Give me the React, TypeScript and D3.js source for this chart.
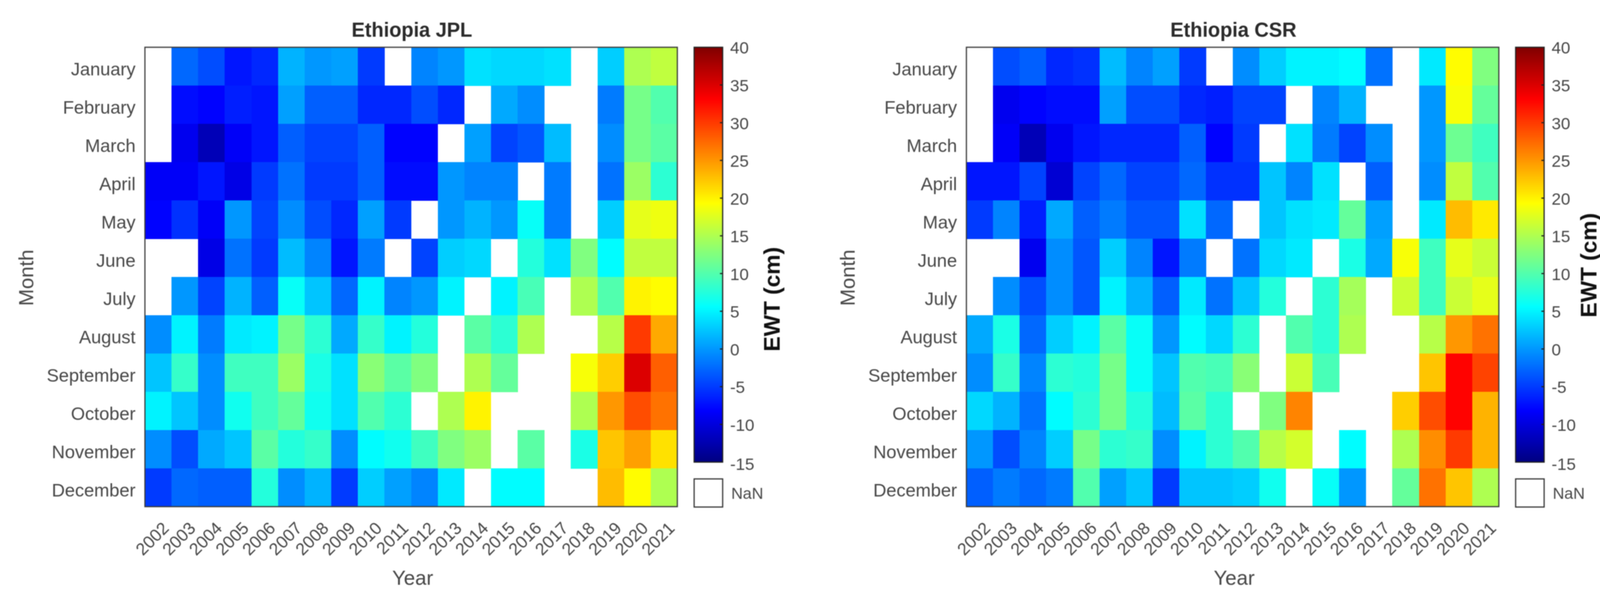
import React from "react";
import * as d3 from "d3";

const months = ["January","February","March","April","May","June","July","August","September","October","November","December"];
const years = d3.range(2002, 2022).map(String);
const cbTicks = [40,35,30,25,20,15,10,5,0,-5,-10,-15];
const N = null;

const jplValues: (number|null)[][] = [
  [N,-2.5,-4,-7,-6,1.5,0,0.5,-5,N,-1,0,4,3.5,3.5,4,N,3,15,16],
  [N,-7.5,-8,-6.5,-7,0.5,-3,-3,-6,-6,-4,-6,N,1,-0.5,N,N,-1.5,12,10],
  [N,-9,-12,-8.5,-7,-3,-4.5,-4.5,-3,-8,-8,N,0.5,-4.5,-3.5,2,N,-0.5,12,10.5],
  [-8.5,-8.5,-7,-9.5,-5,-2,-5,-5,-3,-7.5,-7.5,0,-1,-1,N,-1.5,N,-2,14,8],
  [-8,-5.5,-8.5,0,-4.5,-0.5,-4,-6,0.5,-5,N,0,1.5,0,6,-1.5,N,3,18,18.5],
  [N,N,-9.5,-2,-5,2,-1,-7,-1.5,N,-4.5,3,3.5,N,7.5,4,12.5,5.5,16,16],
  [N,0,-4.5,1.5,-3,6,2.5,-2.5,5,-1,0,5,N,5,9.5,N,15,10,20,19.5],
  [-0.5,5,-1.5,4.5,5,12,8,1,8.5,5,7.5,N,10.5,8,15,N,N,15.5,30,24],
  [2.5,8.5,-0.5,9,9,14,7,4,13,10.5,12.5,N,15,11,N,N,19,22,35,28],
  [5,2.5,-0.5,6.5,9,11,6.5,4,10,8,N,15,20,N,N,N,15,25,29,27],
  [-0.5,-4,1,2.5,10.5,7.5,8.5,-0.5,5.5,6.5,9,12.5,14,N,10.5,N,7,22.5,24.5,21],
  [-5,-2.5,-3,-3,7.5,-0.5,1.5,-5,3,0.5,-1,4.5,N,5.5,5.5,N,N,23,19.5,15],
];

const csrValues: (number|null)[][] = [
  [N,-4,-3,-6,-5.5,2,-1,0.5,-5,N,-0.5,3,5,5,5.5,-2,N,4.5,19.5,12.5],
  [N,-9,-8,-7.5,-7.5,0.5,-4,-4,-6,-6.5,-4.5,-4.5,N,-1,1.5,N,N,0,19,11],
  [N,-8.5,-12,-9,-7,-6,-6,-6,-3,-8,-5,N,4,-1.5,-4.5,-0.5,N,0,11.5,9],
  [-7,-7,-4.5,-10.5,-4.5,-2.5,-4.5,-4.5,-2.5,-5.5,-5.5,2.5,-1,4,N,-3,N,-0.5,16,10],
  [-5,-1,-6.5,1,-3,-1.5,-3.5,-3.5,4,-2.5,N,2.5,4,4.5,11,0.5,N,4.5,23,20.5],
  [N,N,-9,-0.5,-3.5,3,-1,-7,-1.5,N,-2,3.5,4.5,N,7,1,19,9,18,16.5],
  [N,-0.5,-4,-0.5,-3.5,5,1.5,-3,4.5,-2,2.5,7.5,N,8,14.5,N,16.5,9,16.5,18],
  [1,7,-2.5,3,5,10.5,6,0,5.5,3.5,8,N,10,8,15,N,N,15.5,25,27],
  [-0.5,8.5,-1,8,7.5,12,6,2.5,10,9.5,13,N,16.5,9.5,N,N,N,22.5,33,29.5],
  [3.5,1.5,-2,5.5,8,12,7.5,2,10.5,8,N,12.5,26,N,N,N,22,29,33,23.5],
  [0,-4,-1,3,12,8,8.5,-0.5,5,8,10,15.5,17,N,5.5,N,15,25.5,30,23.5],
  [-3,-1.5,-2.5,-1.5,10,0.5,2.5,-5,2.5,2.5,3,6.5,N,6,0,N,11,27,22.5,15],
];

const jetStops = [0, 0.125, 0.375, 0.625, 0.875, 1];
const jetColors = ["#000080", "#0000ff", "#00ffff", "#ffff00", "#ff0000", "#800000"];
const vMin = -15, vMax = 40;
const jet = d3.scaleLinear<string>()
  .domain(jetStops.map(t => vMin + t * (vMax - vMin)))
  .range(jetColors)
  .interpolate(d3.interpolateRgb);

const FONT = "'Liberation Sans', Arial, sans-serif";
const TXT = "#484848";
const W = 1363, H = 1176, TOP = 121;

function Panel({ left, title, values, ewtX, ewtY }: { left: number; title: string; values: (number|null)[][]; ewtX: number; ewtY: number }) {
  const x = d3.scaleBand<string>().domain(years).range([left, left + W]);
  const y = d3.scaleBand<string>().domain(months).range([TOP, TOP + H]);
  const cbX = left + W + 43, cbW = 73;
  const cbY = d3.scaleLinear().domain([vMin, vMax]).range([1183, 121]);
  const levels = d3.range(0, 256).map(i => vMin + (i + 0.5) * (vMax - vMin) / 256);
  const cx = left + W / 2;
  return (
    <g fontFamily={FONT}>
      <text x={cx + 2} y={94} textAnchor="middle" fontSize={51} fontWeight="bold" fill="#2b2b2b">{title}</text>
      {values.map((row, r) => row.map((v, c) => v === null ? null : (
        <rect key={r + "-" + c} x={x(years[c])} y={y(months[r])} width={x.bandwidth() + 0.5} height={y.bandwidth() + 0.5} fill={jet(v)} shapeRendering="crispEdges" />
      )))}
      <rect x={left} y={TOP} width={W} height={H} fill="none" stroke="#3a3a3a" strokeWidth={3} />
      {months.map(m => (
        <text key={m} x={left - 24} y={y(m)! + y.bandwidth() / 2 + 23} textAnchor="end" fontSize={46.5} fill={TXT}>{m}</text>
      ))}
      {years.map(yr => {
        const px = x(yr)! + x.bandwidth() / 2 + 30, py = 1355;
        return <text key={yr} transform={`translate(${px},${py}) rotate(-45)`} textAnchor="end" fontSize={44} fill={TXT}>{yr}</text>;
      })}
      <text x={cx + 4} y={1497} textAnchor="middle" fontSize={52} fill={TXT}>Year</text>
      <text transform={`translate(${left - 286},711) rotate(-90)`} textAnchor="middle" fontSize={52} fill={TXT}>Month</text>

      {levels.map(v => {
        const y1 = cbY(v + 55 / 512), y0 = cbY(v - 55 / 512);
        return <rect key={v} x={cbX} y={y1} width={cbW} height={y0 - y1 + 0.6} fill={jet(v)} shapeRendering="crispEdges" />;
      })}
      <rect x={cbX} y={121} width={cbW} height={1062} fill="none" stroke="#222" strokeWidth={3} />
      {cbTicks.map(t => (
        <g key={t}>
          {t !== 40 && t !== -15 && <line x1={cbX + cbW - 7} x2={cbX + cbW} y1={cbY(t)} y2={cbY(t)} stroke="#222" strokeWidth={3} />}
          <text x={cbX + 92} y={t === -15 ? 1188 : cbY(t) + 1} dy="0.36em" fontSize={43} fill={TXT}>{t}</text>
        </g>
      ))}
      <rect x={cbX} y={1226} width={cbW} height={72} fill="#fff" stroke="#333" strokeWidth={3} />
      <text x={cbX + 95} y={1262} dy="0.36em" fontSize={41} fill={TXT}>NaN</text>
      <text transform={`translate(${ewtX},${ewtY}) rotate(-90)`} textAnchor="middle" fontSize={58} fontWeight="bold" fill="#111">EWT (cm)</text>
    </g>
  );
}

export default function App() {
  return (
    <svg width={4133} height={1536} viewBox="0 0 4133 1536" style={{ position: "absolute", left: 0, top: 0, background: "#fff" }}>
      <defs>
        <filter id="soft" x="0" y="0" width="100%" height="100%" colorInterpolationFilters="sRGB">
          <feGaussianBlur stdDeviation="1.3" />
        </filter>
      </defs>
      <g filter="url(#soft)">
        <rect width={4133} height={1536} fill="#fff" />
        <Panel left={371} title="Ethiopia JPL" values={jplValues} ewtX={1996} ewtY={766} />
        <Panel left={2474} title="Ethiopia CSR" values={csrValues} ewtX={4087} ewtY={679} />
      </g>
    </svg>
  );
}
